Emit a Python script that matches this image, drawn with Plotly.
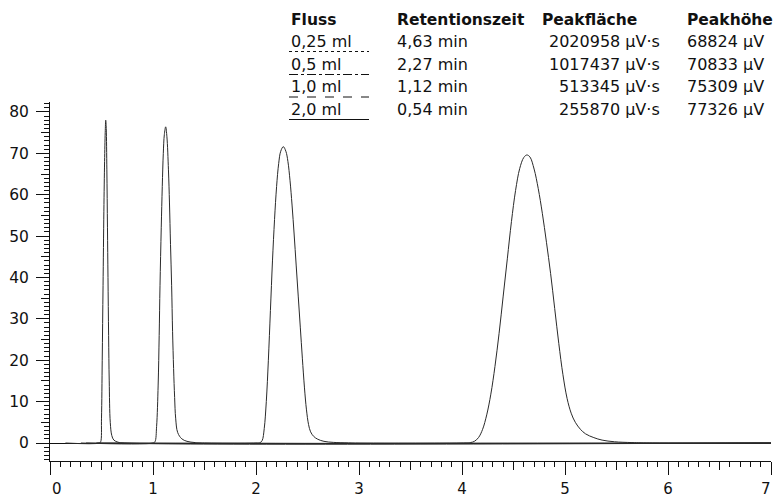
import plotly.graph_objects as go

# ---- data ----
flows = ["0,25 ml", "0,5 ml", "1,0 ml", "2,0 ml"]
ret_times = ["4,63 min", "2,27 min", "1,12 min", "0,54 min"]
areas = ["2020958 µV·s", "1017437 µV·s", "513345 µV·s", "255870 µV·s"]
heights = ["68824 µV", "70833 µV", "75309 µV", "77326 µV"]
dashes = ["dot", "dashdot", "dash", "solid"]
headers = ["Fluss", "Retentionszeit", "Peakfläche", "Peakhöhe"]
x_ticks = [0, 1, 2, 3, 4, 5, 6, 7]
x_ticktext = ["0", "1", "2", "3", "4", "5", "6", "7"]

t_20 = [0.15, 0.48, 0.492, 0.50, 0.507, 0.515, 0.523, 0.53, 0.536, 0.541, 0.546, 0.552,
        0.558, 0.563, 0.569, 0.575, 0.585, 0.60, 0.62, 0.66, 0.72, 7.0]
v_20 = [0, 0, 0.3, 6, 20, 38, 56, 68, 75, 78, 76, 66, 52, 40, 26, 15, 5, 1.8, 0.7, 0.2, 0, 0]

t_10 = [0.3, 1.0, 1.019, 1.035, 1.05, 1.06, 1.068, 1.08, 1.09, 1.10, 1.11, 1.123, 1.135,
        1.15, 1.16, 1.17, 1.181, 1.19, 1.20, 1.21, 1.22, 1.24, 1.28, 1.33, 1.41, 1.5, 7.0]
v_10 = [0, 0, 0.3, 4, 14, 26, 38, 52, 62, 70, 74.5, 76.4, 74, 66, 58, 48, 38, 27, 18, 11,
        6, 2.5, 1.0, 0.4, 0.1, 0, 0]

t_05 = [0.35, 2.00, 2.04, 2.06, 2.08, 2.10, 2.12, 2.14, 2.16, 2.18, 2.20, 2.22, 2.24, 2.265,
        2.29, 2.31, 2.33, 2.35, 2.37, 2.39, 2.41, 2.43, 2.45, 2.47, 2.49, 2.51, 2.53, 2.56,
        2.60, 2.66, 2.75, 2.90, 3.00, 7.0]
v_05 = [0, 0, 0.1, 0.6, 3.5, 10, 20, 32, 44, 54, 62, 67.5, 70.5, 71.6,
        70.5, 68, 63.5, 57.5, 50.5, 43, 35.5, 28, 20.5, 13.5, 8, 4.5, 2.7, 1.6,
        0.9, 0.4, 0.15, 0.04, 0, 0]

t_025 = [0.45, 4.00, 4.08, 4.12, 4.16, 4.20, 4.24, 4.28, 4.32, 4.36, 4.40, 4.44, 4.48, 4.52,
         4.56, 4.60, 4.63, 4.66, 4.70, 4.74, 4.78, 4.82, 4.86, 4.90, 4.94, 4.98, 5.02, 5.06,
         5.10, 5.15, 5.20, 5.28, 5.36, 5.48, 5.65, 5.85, 7.0]
v_025 = [0, 0, 0.1, 0.4, 1.3, 3.3, 6.8, 11.8, 18.5, 26.5, 35.5, 44.5, 53.5, 61,
         66.3, 69.0, 69.6, 69.1, 66.2, 61.5, 55.5, 48.5, 41, 32.5, 24, 16.5, 10.8, 7.2,
         5.0, 3.3, 2.2, 1.3, 0.7, 0.3, 0.1, 0, 0]

series = [(t_025, v_025), (t_05, v_05), (t_10, v_10), (t_20, v_20)]

X_RANGE = [0, 7]
Y_RANGE = [-4.35, 82.4]

# ---- layout geometry (pixels) ----
W, H = 774, 498
L, R, T, B = 50, 3, 102, 37
PW, PH = W - L - R, H - T - B


def px(x):
    return (x - L) / PW


def py(y):
    return (H - B - y) / PH


FONT = "DejaVu Sans"
INK = "#111111"
LINE = "#2a2a2a"

fig = go.Figure()
for (tx, vy), name in zip(series, flows):
    fig.add_trace(go.Scatter(x=tx, y=vy, mode="lines", name=name,
                             line=dict(color=LINE, width=1, shape="spline", smoothing=1),
                             hoverinfo="skip", showlegend=False))

# invisible trace for the overlay axes (medium ticks)
fig.add_trace(go.Scatter(x=X_RANGE, y=Y_RANGE, xaxis="x2", yaxis="y2", mode="markers",
                         marker=dict(opacity=0), hoverinfo="skip", showlegend=False))

common = dict(showgrid=False, showline=True, linecolor=INK, linewidth=1, ticks="outside",
              tickcolor=INK, tickwidth=1, automargin=False)

inner_text = [t if 0 < v < 7 else "" for v, t in zip(x_ticks, x_ticktext)]

fig.update_layout(
    width=W, height=H,
    margin=dict(l=L, r=R, t=T, b=B, pad=0, autoexpand=False),
    plot_bgcolor="white", paper_bgcolor="white",
    font=dict(family=FONT, size=15, color=INK),
    xaxis=dict(range=X_RANGE, tickmode="array", tickvals=x_ticks, ticktext=inner_text,
               ticklen=13, zeroline=False, ticklabelstandoff=1,
               tickfont=dict(family=FONT, size=15, color=INK),
               minor=dict(dtick=0.1, tick0=0, ticklen=5, ticks="outside", tickcolor=INK,
                          showgrid=False),
               **common),
    yaxis=dict(range=Y_RANGE, dtick=10, tick0=0, ticklen=13, zeroline=True,
               zerolinecolor=INK, zerolinewidth=1, ticklabelstandoff=4,
               tickfont=dict(family=FONT, size=15.5, color=INK),
               minor=dict(dtick=1, tick0=0, ticklen=5, ticks="outside", tickcolor=INK,
                          showgrid=False),
               **common),
    xaxis2=dict(range=X_RANGE, overlaying="x", anchor="y", side="bottom", dtick=0.5, tick0=0,
                ticklen=8, showticklabels=False, showgrid=False, zeroline=False,
                ticks="outside", tickcolor=INK, showline=False, automargin=False),
    yaxis2=dict(range=Y_RANGE, overlaying="y", anchor="x", side="left", dtick=5, tick0=0,
                ticklen=8, showticklabels=False, showgrid=False, zeroline=False,
                ticks="outside", tickcolor=INK, showline=False, automargin=False),
)

# end tick labels kept inside the page, as in the reference
for v, t in zip(x_ticks, x_ticktext):
    if v == X_RANGE[0]:
        fig.add_annotation(x=v, y=py(489), xref="x", yref="paper", text=t, showarrow=False,
                           xanchor="left", yanchor="middle", xshift=0,
                           font=dict(family=FONT, size=15, color=INK))
    elif v == X_RANGE[1]:
        fig.add_annotation(x=v, y=py(489), xref="x", yref="paper", text=t, showarrow=False,
                           xanchor="right", yanchor="middle", xshift=2,
                           font=dict(family=FONT, size=15, color=INK))

# ---- table (legend) ----
col_x = [289, 395, 662, 685]
col_anchor = ["left", "left", "right", "left"]
header_x = [289, 395, 540, 685]
row_y = [41.5, 64.5, 87, 109.5]
header_y = 20

for hx, htxt in zip(header_x, headers):
    fig.add_annotation(x=px(hx), y=py(header_y), xref="paper", yref="paper",
                       text="<b>" + htxt + "</b>", showarrow=False, xanchor="left",
                       yanchor="middle", font=dict(family=FONT, size=15.5, color=INK))

for i in range(4):
    cells = [flows[i], ret_times[i], areas[i], heights[i]]
    for cx, anc, txt in zip(col_x, col_anchor, cells):
        fig.add_annotation(x=px(cx), y=py(row_y[i]), xref="paper", yref="paper",
                           text=txt, showarrow=False, xanchor=anc, yanchor="middle",
                           font=dict(family=FONT, size=16, color=INK))
    ly = row_y[i] + 10
    fig.add_shape(type="line", xref="paper", yref="paper",
                  x0=px(289), x1=px(369), y0=py(ly), y1=py(ly),
                  line=dict(color=INK, width=1, dash=dashes[i]))

fig.write_html("out.html")
